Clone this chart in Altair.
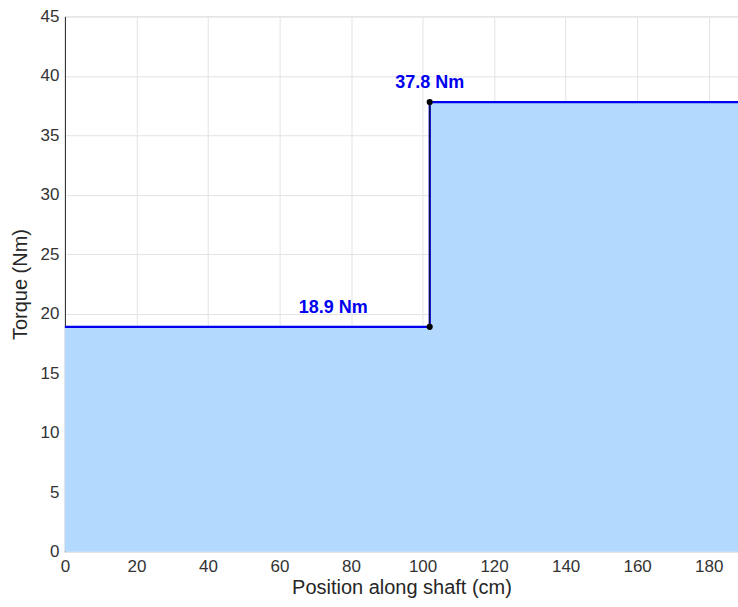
import altair as alt
import pandas as pd

# data
positions = [0, 102, 188.2]
torques = [18.9, 37.8, 37.8]
step_x = [102, 102]
step_y = [18.9, 37.8]
label_x = [75, 102]
label_y = [18.9, 37.8]
label_text = ["18.9 Nm", "37.8 Nm"]
x_ticks = [0, 20, 40, 60, 80, 100, 120, 140, 160, 180]
y_ticks = [0, 5, 10, 15, 20, 25, 30, 35, 40, 45]

df = pd.DataFrame({"x": positions, "y": torques})
dots = pd.DataFrame({"x": step_x, "y": step_y})
labels = pd.DataFrame({"x": label_x, "y": label_y, "t": label_text})

FONT = "Liberation Sans"
xs = alt.Scale(domain=[0, 188.2], nice=False, zero=False)
ys = alt.Scale(domain=[0, 45], nice=False)

xax = alt.Axis(values=x_ticks, title="Position along shaft (cm)", grid=True,
               gridColor="#e3e3e3", domain=False, ticks=False, labelPadding=7,
               labelFontSize=17, labelColor="#333333", titleFontSize=20,
               titleFontWeight="normal", titleColor="#262626", titlePadding=3,
               labelFont=FONT, titleFont=FONT, labelFlush=False)
yax = alt.Axis(values=y_ticks, title="Torque (Nm)", grid=True,
               gridColor="#e3e3e3", domain=True, domainColor="#262626", ticks=False,
               labelPadding=6, labelFontSize=17, labelColor="#333333",
               titleFontSize=20, titleFontWeight="normal", titleColor="#262626",
               titlePadding=10, labelFont=FONT, titleFont=FONT, labelFlush=False)

area = alt.Chart(df).mark_area(interpolate="step-after", color="#b3d9ff", opacity=1,
                               line={"color": "#1a1a1a", "strokeWidth": 1}).encode(
    x=alt.X("x:Q", scale=xs, axis=xax),
    y=alt.Y("y:Q", scale=ys, axis=yax),
)
line = alt.Chart(df).mark_line(interpolate="step-after", color="#0000ee", strokeWidth=2.2).encode(
    x=alt.X("x:Q", scale=xs), y=alt.Y("y:Q", scale=ys)
)
vline = alt.Chart(dots).mark_line(color="#111111", strokeWidth=1).encode(
    x=alt.X("x:Q", scale=xs), y=alt.Y("y:Q", scale=ys)
)
pts = alt.Chart(dots).mark_circle(color="black", size=38, opacity=1).encode(
    x=alt.X("x:Q", scale=xs), y=alt.Y("y:Q", scale=ys)
)
txt = alt.Chart(labels).mark_text(color="#0000ee", fontSize=18, fontWeight="bold",
                                  font=FONT, baseline="bottom", dy=-10).encode(
    x=alt.X("x:Q", scale=xs), y=alt.Y("y:Q", scale=ys), text="t:N"
)

chart = alt.layer(area, line, vline, pts, txt).properties(
    width=674, height=536,
    autosize=alt.AutoSizeParams(type="none"),
    padding={"left": 65, "top": 16, "right": 0, "bottom": 55},
).configure_view(stroke="#262626", strokeWidth=1).configure(background="white")

chart.save("out.html", embed_options={"renderer": "svg", "actions": False})
